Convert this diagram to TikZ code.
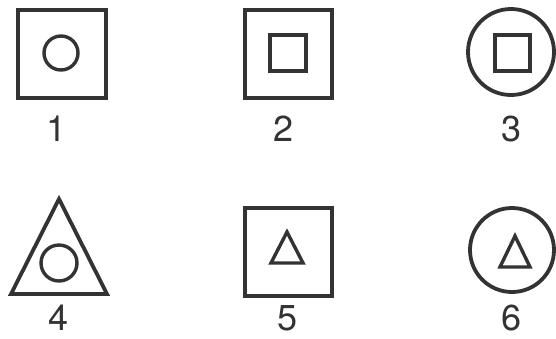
\documentclass[tikz,border=0pt]{standalone}
\usepackage{fontspec}
\setmainfont{TeX Gyre Heros}
\usetikzlibrary{positioning}

\begin{document}
\begin{tikzpicture}[x=1pt,y=-1pt,every node/.style={font=\fontsize{36}{40}\selectfont,text=black!80},
  outer/.style={line width=3.8pt,draw=black!80},inner/.style={line width=3.4pt,draw=black!80}]
\useasboundingbox (0,0) rectangle (556,338);
% first row
\draw[outer] (18,10) rectangle (106,98);
\draw[inner] (61,53) circle (17);
\node (l1) at (57,129) {1};
\draw[outer] (245,10) rectangle (332,98);
\draw[inner] (270,35) rectangle (306,71);
\node (l2) at (284,129) {2};
\draw[outer] (511,52) circle (43);
\draw[inner] (495,35) rectangle (530,71);
\node (l3) at (511,129) {3};
% second row
\coordinate (t0) at (59,199);
\coordinate (t1) at (107,294);
\coordinate (t2) at (11,294);
\draw[outer,line join=miter] (t0)--(t1)--(t2)--cycle;
\draw[inner] (59,263) circle (18);
\node (l4) at (59,318) {4};
\draw[outer] (245,208) rectangle (332,296);
\draw[inner,line join=miter] (287,232)--(303,263)--(271,263)--cycle;
\node (l5) at (288,318) {5};
\draw[outer] (512,250) circle (42);
\draw[inner,line join=miter] (515,236)--(530,267)--(500,267)--cycle;
\node (l6) at (511,318) {6};
\end{tikzpicture}
\end{document}
